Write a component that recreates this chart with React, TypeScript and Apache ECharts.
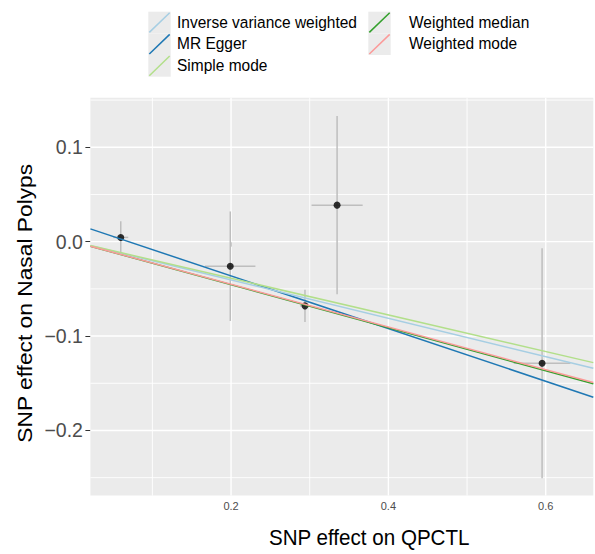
import React, { useEffect, useRef } from "react";
import * as echarts from "echarts";

// ---- data ----
const methods = ["MR Egger", "Weighted median", "Inverse variance weighted", "Simple mode", "Weighted mode"];
const slopes = [-0.279, -0.228, -0.203, -0.194, -0.226];
const intercepts = [0.0195, 0, 0, 0, 0];
const methodColors = ["#1F78B4", "#33A02C", "#A6CEE3", "#B2DF8A", "#FB9A99"];
const legendOrder = ["Inverse variance weighted", "MR Egger", "Simple mode", "Weighted median", "Weighted mode"];

const snpX = [0.0598, 0.199, 0.294, 0.3348, 0.5954];
const snpY = [0.0045, -0.026, -0.068, 0.0387, -0.1288];
const snpSeX = [0.0095, 0.032, 0.0064, 0.0325, 0.036];
const snpSeY = [0.017, 0.058, 0.017, 0.0943, 0.1218];

const xMajor = [0.2, 0.4, 0.6];
const xMinor = [0.1, 0.3, 0.5];
const yMajor = [-0.2, -0.1, 0, 0.1];
const yMinor = [-0.25, -0.15, -0.05, 0.05, 0.15];
const xLimits = [0.0212, 0.6605];
const yLimits = [-0.269, 0.1525];

const xTitle = "SNP effect on QPCTL";
const yTitle = "SNP effect on Nasal Polyps";

const FONT = "'Liberation Sans', Arial, Helvetica, sans-serif";

export default function App() {
  const ref = useRef<HTMLDivElement>(null);
  useEffect(() => {
    if (!ref.current) return;
    const chart = echarts.init(ref.current, null, { renderer: "svg" });

    const graphics: any[] = [];
    legendOrder.forEach((name, i) => {
      const col = i < 3 ? 0 : 1;
      const row = i < 3 ? i : i - 3;
      const kx = col === 0 ? 148.3 : 368.3;
      const kh = 21.67;
      const kw = 22.4;
      const ky = 11.7 + row * kh;
      const color = methodColors[methods.indexOf(name)];
      graphics.push({ type: "rect", shape: { x: kx, y: ky, width: kw, height: kh }, style: { fill: "#EBEBEB" }, silent: true });
      graphics.push({
        type: "line",
        shape: { x1: kx + 1, y1: ky + kh - 1, x2: kx + kw - 1, y2: ky + 1 },
        style: { stroke: color, lineWidth: 1.5 },
        silent: true,
      });
      graphics.push({
        type: "text",
        x: col === 0 ? 177 : 409,
        y: ky + 9.6,
        scaleY: 1.106,
        style: { text: name, fontSize: 15.5, fontFamily: FONT, fill: "#000", align: "left", verticalAlign: "middle" },
      });
    });
    graphics.push({
      type: "text",
      x: 369.2,
      y: 537.5,
      scaleY: 1.106,
      style: { text: xTitle, fontSize: 20.6, fontFamily: FONT, fill: "#000", align: "center", verticalAlign: "middle" },
    });
    graphics.push({
      type: "text",
      x: 25,
      y: 303.3,
      rotation: Math.PI / 2,
      scaleX: 1.106,
      style: { text: yTitle, fontSize: 20.6, fontFamily: FONT, fill: "#000", align: "center", verticalAlign: "middle" },
    });

    const lineSeries = methods.map((m, i) => ({
      type: "line",
      name: m,
      z: 5,
      showSymbol: false,
      silent: true,
      lineStyle: { color: methodColors[i], width: 1.5 },
      data: xLimits.map((x) => [x, intercepts[i] + slopes[i] * x]),
    }));

    const option: any = {
      animation: false,
      grid: {
        left: 90.4,
        right: 1.7,
        top: 97.7,
        bottom: 58.4,
        show: true,
        backgroundColor: "#EBEBEB",
        borderWidth: 0,
      },
      xAxis: {
        type: "value",
        min: xLimits[0],
        max: xLimits[1],
        axisLine: { show: false },
        splitLine: { show: false },
        axisTick: { show: true, customValues: xMajor, length: 5, lineStyle: { color: "#333333", width: 1 } },
        axisLabel: {
          customValues: xMajor,
          color: "#4D4D4D",
          fontSize: 11,
          fontFamily: FONT,
          margin: 5,
          formatter: (v: number) => v.toFixed(1),
        },
      },
      yAxis: {
        type: "value",
        min: yLimits[0],
        max: yLimits[1],
        axisLine: { show: false },
        splitLine: { show: false },
        axisTick: { show: true, customValues: yMajor, length: 5, lineStyle: { color: "#333333", width: 1 } },
        axisLabel: {
          customValues: yMajor,
          color: "#4D4D4D",
          fontSize: 19.5,
          fontFamily: FONT,
          margin: 7.5,
          formatter: (v: number) => (v < -1e-9 ? "\u2212" : "") + Math.abs(v).toFixed(1),
        },
      },
      graphic: graphics,
      series: [
        {
          type: "custom",
          z: 1,
          silent: true,
          encode: { x: 0, y: 1 },
          data: [...xMajor.map((v) => [v, yLimits[0], 1]), ...xMinor.map((v) => [v, yLimits[0], 0])],
          renderItem: (params: any, api: any) => {
            const cs = params.coordSys;
            const p = api.coord([api.value(0), api.value(1)]);
            return {
              type: "line",
              shape: { x1: p[0], y1: cs.y, x2: p[0], y2: cs.y + cs.height },
              style: { stroke: "#FFFFFF", lineWidth: api.value(2) ? 1.4 : 0.9 },
            };
          },
        },
        {
          type: "custom",
          z: 1,
          silent: true,
          encode: { x: 0, y: 1 },
          data: [...yMajor.map((v) => [xLimits[0], v, 1]), ...yMinor.map((v) => [xLimits[0], v, 0])],
          renderItem: (params: any, api: any) => {
            const cs = params.coordSys;
            const p = api.coord([api.value(0), api.value(1)]);
            return {
              type: "line",
              shape: { x1: cs.x, y1: p[1], x2: cs.x + cs.width, y2: p[1] },
              style: { stroke: "#FFFFFF", lineWidth: api.value(2) ? 1.4 : 0.9 },
            };
          },
        },
        {
          type: "custom",
          z: 2,
          silent: true,
          encode: { x: 0, y: 1 },
          data: snpX.map((x, i) => [x, snpY[i], snpSeX[i], snpSeY[i]]),
          renderItem: (params: any, api: any) => {
            const x = api.value(0);
            const y = api.value(1);
            const sx = api.value(2);
            const sy = api.value(3);
            const a = api.coord([x, y - sy]);
            const b = api.coord([x, y + sy]);
            const c = api.coord([x - sx, y]);
            const d = api.coord([x + sx, y]);
            return {
              type: "group",
              children: [
                { type: "line", shape: { x1: a[0], y1: a[1], x2: b[0], y2: b[1] }, style: { stroke: "#BEBEBE", lineWidth: 1.5 } },
                { type: "line", shape: { x1: c[0], y1: c[1], x2: d[0], y2: d[1] }, style: { stroke: "#BEBEBE", lineWidth: 1.5 } },
              ],
            };
          },
        },
        {
          type: "scatter",
          z: 3,
          silent: true,
          symbolSize: 7,
          itemStyle: { color: "#000000" },
          data: snpX.map((x, i) => [x, snpY[i]]),
        },
        ...lineSeries,
      ],
    };
    chart.setOption(option);
    return () => chart.dispose();
  }, []);
  return (
    <div
      ref={ref}
      style={{ position: "fixed", left: 0, top: 0, width: 595, height: 554, background: "#FFFFFF" }}
    />
  );
}
